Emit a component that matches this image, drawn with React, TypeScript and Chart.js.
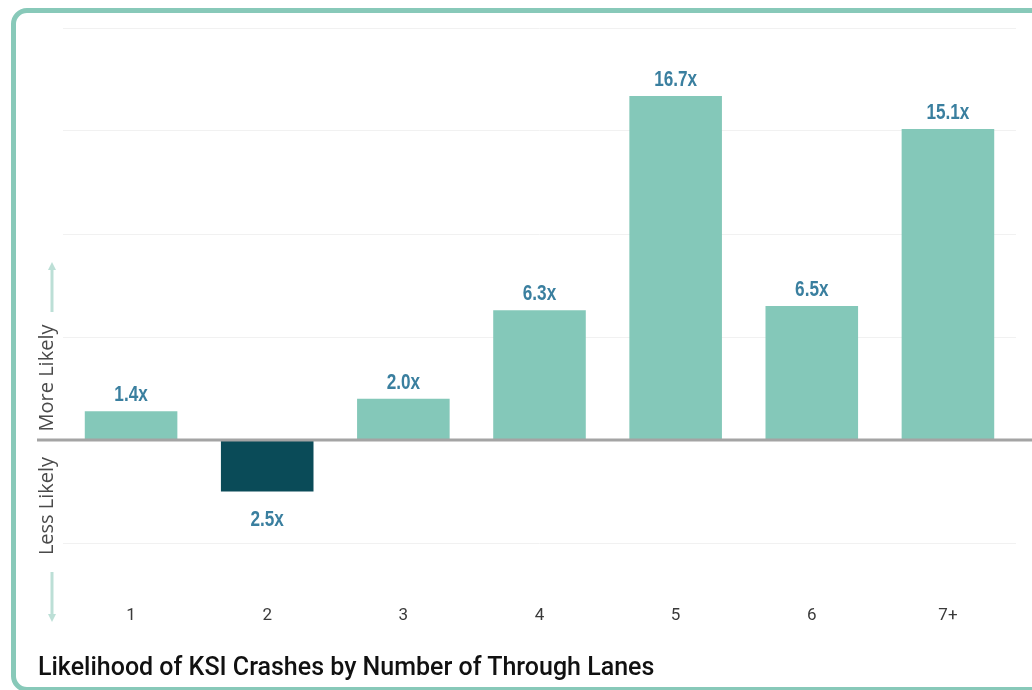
import React, { useEffect, useRef } from "react";
import { Chart, registerables } from "chart.js";

Chart.register(...registerables);

const categories = ["1", "2", "3", "4", "5", "6", "7+"];
const values = [1.4, -2.5, 2.0, 6.3, 16.7, 6.5, 15.1];
const valueLabels = ["1.4x", "2.5x", "2.0x", "6.3x", "16.7x", "6.5x", "15.1x"];
const yMin = -7.5;
const yMax = 20;
const yStep = 5;
const chartTitle = "Likelihood of KSI Crashes by Number of Through Lanes";
const upLabel = "More Likely";
const downLabel = "Less Likely";

const POS_COLOR = "#84c8b9";
const NEG_COLOR = "#0a4b58";
const LABEL_COLOR = "#3a7f9f";
const ARROW_COLOR = "#bcdfd6";

function drawArrow(ctx: CanvasRenderingContext2D, x: number, yFrom: number, yTo: number) {
  const dir = yTo < yFrom ? -1 : 1;
  ctx.save();
  ctx.strokeStyle = ARROW_COLOR;
  ctx.fillStyle = ARROW_COLOR;
  ctx.lineWidth = 3;
  ctx.beginPath();
  ctx.moveTo(x, yFrom);
  ctx.lineTo(x, yTo - dir * 6);
  ctx.stroke();
  ctx.beginPath();
  ctx.moveTo(x, yTo);
  ctx.lineTo(x - 4, yTo - dir * 8);
  ctx.lineTo(x + 4, yTo - dir * 8);
  ctx.closePath();
  ctx.fill();
  ctx.restore();
}

const decorPlugin = {
  id: "decor",
  afterDatasetsDraw(chart: any) {
    const { ctx, scales } = chart;
    const y0 = scales.y.getPixelForValue(0);
    ctx.save();
    // zero line
    ctx.strokeStyle = "#a4a4a4";
    ctx.lineWidth = 3;
    ctx.beginPath();
    ctx.moveTo(37, y0);
    ctx.lineTo(chart.width, y0);
    ctx.stroke();

    // value labels (condensed by horizontal scaling)
    const meta = chart.getDatasetMeta(0);
    ctx.font = "bold 22px 'Liberation Sans', Arial, sans-serif";
    ctx.fillStyle = LABEL_COLOR;
    ctx.textAlign = "center";
    const sx = 0.78;
    meta.data.forEach((bar: any, i: number) => {
      ctx.save();
      if (values[i] >= 0) {
        ctx.textBaseline = "alphabetic";
        ctx.translate(bar.x, bar.y - 10);
      } else {
        ctx.textBaseline = "top";
        ctx.translate(bar.x, bar.y + 17);
      }
      ctx.scale(sx, 1);
      ctx.fillText(valueLabels[i], 0, 0);
      ctx.restore();
    });

    // side labels
    ctx.fillStyle = "#4a4a4a";
    ctx.font = "20px 'Open Sans', sans-serif";
    ctx.textAlign = "center";
    ctx.textBaseline = "middle";
    ctx.save();
    ctx.translate(47, y0 - 62);
    ctx.rotate(-Math.PI / 2);
    ctx.fillText(upLabel, 0, 0);
    ctx.restore();
    ctx.save();
    ctx.translate(47, y0 + 66);
    ctx.rotate(-Math.PI / 2);
    ctx.fillText(downLabel, 0, 0);
    ctx.restore();

    drawArrow(ctx, 52, y0 - 128, y0 - 178);
    drawArrow(ctx, 52, y0 + 132, y0 + 182);
    ctx.restore();
  },
};

export default function App() {
  const canvasRef = useRef<HTMLCanvasElement | null>(null);

  useEffect(() => {
    if (!canvasRef.current) return;
    const chart = new Chart(canvasRef.current, {
      type: "bar",
      data: {
        labels: categories,
        datasets: [
          {
            data: values,
            backgroundColor: values.map((v) => (v >= 0 ? POS_COLOR : NEG_COLOR)),
            borderWidth: 0,
            barPercentage: 0.68,
            categoryPercentage: 1,
          },
        ],
      },
      options: {
        animation: false,
        responsive: false,
        maintainAspectRatio: false,
        layout: { padding: { left: 63, right: 16, top: 28, bottom: 55.5 } },
        plugins: {
          legend: { display: false },
          tooltip: { enabled: false },
          title: { display: false },
        },
        scales: {
          x: {
            grid: { display: false, drawTicks: false },
            border: { display: false },
            ticks: {
              color: "#3a3a3a",
              font: { family: "Roboto, sans-serif", size: 17 },
              padding: 11,
            },
            afterFit: (s: any) => {
              s.height = 40;
            },
          },
          y: {
            min: yMin,
            max: yMax,
            ticks: { display: false, stepSize: yStep },
            border: { display: false },
            grid: {
              drawTicks: false,
              lineWidth: 1,
              color: (c: any) =>
                c.tick && c.tick.value % yStep === 0 ? "#f1f1f1" : "rgba(0,0,0,0)",
            },
            afterFit: (s: any) => {
              s.width = 0;
            },
          },
        },
      },
      plugins: [decorPlugin],
    });
    return () => chart.destroy();
  }, []);

  return (
    <div
      style={{
        position: "fixed",
        left: 0,
        top: 0,
        width: 1032,
        height: 690,
        overflow: "hidden",
        background: "#fff",
      }}
    >
      <div
        style={{
          position: "absolute",
          left: 11,
          top: 8,
          width: 1200,
          height: 684,
          boxSizing: "border-box",
          border: "5px solid #88c9b9",
          borderRadius: 16,
          background: "#fff",
        }}
      />
      <canvas
        ref={canvasRef}
        width={1032}
        height={690}
        style={{ position: "absolute", left: 0, top: 0, width: 1032, height: 690 }}
      />
      <div
        style={{
          position: "absolute",
          left: 38,
          top: 652,
          fontFamily: "Roboto, sans-serif",
          fontWeight: 500,
          fontSize: 25,
          lineHeight: "normal",
          color: "#111",
          whiteSpace: "nowrap",
        }}
      >
        {chartTitle}
      </div>
    </div>
  );
}
